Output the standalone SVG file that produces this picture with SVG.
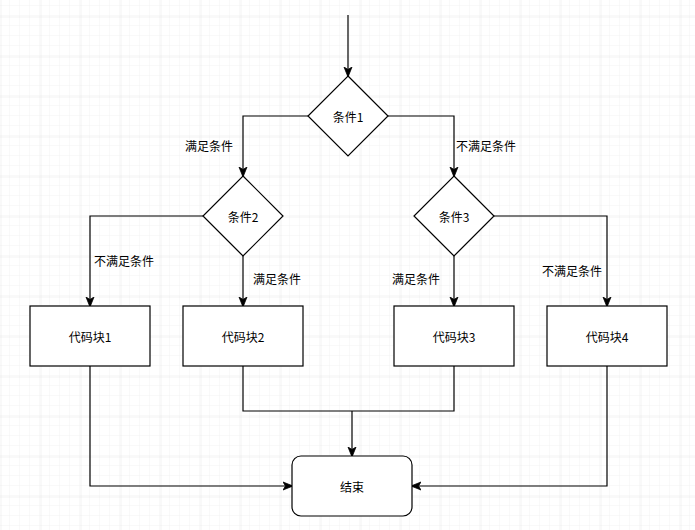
<svg xmlns="http://www.w3.org/2000/svg" width="695" height="530" viewBox="0 0 695 530">
<defs>
<pattern id="minor" width="10" height="10" patternUnits="userSpaceOnUse" x="0" y="6">
<path d="M10 0V10M0 10H10" fill="none" stroke="#f3f3f3" stroke-width="1"/>
</pattern>
<pattern id="major" width="40" height="40" patternUnits="userSpaceOnUse" x="0.5" y="16.5">
<path d="M0 0V40M0 0H40" fill="none" stroke="#e6e6e6" stroke-width="1"/>
</pattern>
<marker id="arr" viewBox="0 0 10 10" refX="9" refY="5" markerWidth="10" markerHeight="10" markerUnits="userSpaceOnUse" orient="auto">
<path d="M0 1 L10 5 L0 9 L2.5 5 Z" fill="#000" stroke="#000" stroke-width="0.8"/>
</marker>
<style>
.n{fill:#fff;stroke:#000;stroke-width:1.2}
.e{fill:none;stroke:#000;stroke-width:1.2}
.t{font-family:"Noto Sans CJK SC","Noto Sans",sans-serif;font-size:12px;fill:#000;text-anchor:middle;dominant-baseline:central}
</style>
</defs>
<rect width="695" height="530" fill="#fff"/>
<rect width="695" height="530" fill="url(#minor)"/>
<rect width="695" height="530" fill="url(#major)"/>
<g id="connectors">
<path class="e" d="M348 15V76" marker-end="url(#arr)"/>
<path class="e" d="M308 116H243V176" marker-end="url(#arr)"/>
<path class="e" d="M388 116H454V176" marker-end="url(#arr)"/>
<path class="e" d="M203 216H90V306" marker-end="url(#arr)"/>
<path class="e" d="M243 256V306" marker-end="url(#arr)"/>
<path class="e" d="M454 256V306" marker-end="url(#arr)"/>
<path class="e" d="M494 216H607V306" marker-end="url(#arr)"/>
<path class="e" d="M243 366V411H454V366"/>
<path class="e" d="M352 411V456" marker-end="url(#arr)"/>
<path class="e" d="M90 366V486H292" marker-end="url(#arr)"/>
<path class="e" d="M607 366V486H412" marker-end="url(#arr)"/>
<text class="t" x="209" y="145">满足条件</text>
<text class="t" x="486" y="145">不满足条件</text>
<text class="t" x="124" y="260">不满足条件</text>
<text class="t" x="277" y="278">满足条件</text>
<text class="t" x="416" y="278">满足条件</text>
<text class="t" x="572" y="270">不满足条件</text>
</g>
<g id="cond1"><path class="n" d="M348 76L388 116L348 156L308 116Z"/><text class="t" x="348" y="116">条件1</text></g>
<g id="cond2"><path class="n" d="M243 176L283 216L243 256L203 216Z"/><text class="t" x="243" y="216">条件2</text></g>
<g id="cond3"><path class="n" d="M454 176L494 216L454 256L414 216Z"/><text class="t" x="454" y="216">条件3</text></g>
<g id="block1"><rect class="n" x="30" y="306" width="120" height="60"/><text class="t" x="90" y="336">代码块1</text></g>
<g id="block2"><rect class="n" x="183" y="306" width="120" height="60"/><text class="t" x="243" y="336">代码块2</text></g>
<g id="block3"><rect class="n" x="394" y="306" width="120" height="60"/><text class="t" x="454" y="336">代码块3</text></g>
<g id="block4"><rect class="n" x="547" y="306" width="120" height="60"/><text class="t" x="607" y="336">代码块4</text></g>
<g id="end"><rect class="n" x="292" y="456" width="120" height="60" rx="9" ry="9"/><text class="t" x="352" y="486">结束</text></g>
</svg>
